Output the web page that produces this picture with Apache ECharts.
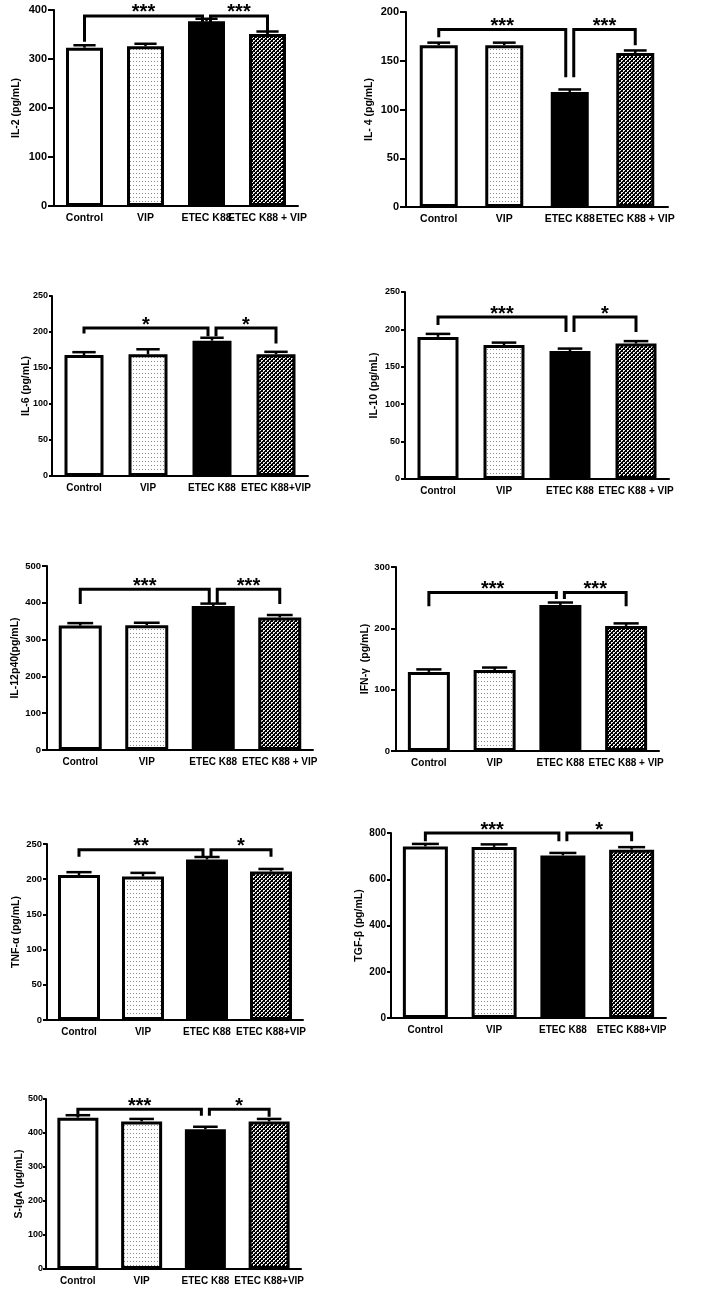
<!DOCTYPE html>
<html><head><meta charset="utf-8">
<script src="https://cdn.jsdelivr.net/npm/echarts/dist/echarts.min.js"></script>
<style>html,body{margin:0;padding:0;background:#fff}#c{width:706px;height:1290px}</style>
</head><body><div id="c"></div>
<script>
// ---------- DATA ----------
const catsSpaced = ['Control', 'VIP', 'ETEC K88', 'ETEC K88 + VIP'];
const catsTight  = ['Control', 'VIP', 'ETEC K88', 'ETEC K88+VIP'];

const il2Vals = [323, 326, 377, 351];   const il2Err = [3, 3, 4, 3];
const il4Vals = [166, 166, 118, 158];   const il4Err = [2, 2, 2, 2];
const il6Vals = [168, 169, 188, 169];   const il6Err = [4, 7, 4, 2];
const il10Vals = [190, 179, 171, 181];  const il10Err = [4, 2, 2, 3];
const il12Vals = [338, 339, 391, 360];  const il12Err = [4, 3, 4, 2];
const ifnVals = [129, 132, 238, 204];   const ifnErr = [3, 3, 4, 3];
const tnfVals = [206, 204, 228, 211];   const tnfErr = [4, 5, 2, 3];
const tgfVals = [742, 740, 703, 728];   const tgfErr = [3, 7, 5, 4];
const igaVals = [445, 434, 411, 434];   const igaErr = [4, 3, 2, 2];

// brackets: [fromIndex, toIndex, topValue, leftLegEnd, rightLegEnd, stars]
const il2Br  = [[0, 2, 388, 335, 375, '***'], [2, 3, 388, 375, 352, '***']];
const il4Br  = [[0, 2, 182, 174, 133, '***'], [2, 3, 182, 133, 166, '***']];
const il6Br  = [[0, 2, 205.5, 198, 194, '*'], [2, 3, 205.5, 194, 184, '*']];
const il10Br = [[0, 2, 216.5, 206, 196.5, '***'], [2, 3, 216.5, 196.5, 196.5, '*']];
const il12Br = [[0, 2, 437, 397, 397, '***'], [2, 3, 437, 397, 397, '***']];
const ifnBr  = [[0, 2, 258.5, 236, 248, '***'], [2, 3, 258.5, 248, 236, '***']];
const tnfBr  = [[0, 2, 242, 232, 232, '**'], [2, 3, 242, 232, 232, '*']];
const tgfBr  = [[0, 2, 800, 764, 764, '***'], [2, 3, 800, 764, 764, '*']];
const igaBr  = [[0, 2, 470, 448, 451, '***'], [2, 3, 470, 451, 448, '*']];

const yNames = ['IL-2 (pg/mL)', 'IL- 4 (pg/mL)', 'IL-6 (pg/mL)', 'IL-10 (pg/mL)', 'IL-12p40(pg/mL)',
                'IFN-\u03b3  (pg/mL)', 'TNF-\u03b1 (pg/mL)', 'TGF-\u03b2 (pg/mL)', 'S-IgA (\u03bcg/mL)'];
const yMax = [400, 200, 250, 250, 500, 300, 250, 800, 500];
const yStep = [100, 50, 50, 50, 100, 100, 50, 200, 100];

const panels = [
  {cats: catsSpaced, vals: il2Vals, err: il2Err, br: il2Br},
  {cats: catsSpaced, vals: il4Vals, err: il4Err, br: il4Br},
  {cats: catsTight, vals: il6Vals, err: il6Err, br: il6Br},
  {cats: catsSpaced, vals: il10Vals, err: il10Err, br: il10Br},
  {cats: catsSpaced, vals: il12Vals, err: il12Err, br: il12Br},
  {cats: catsSpaced, vals: ifnVals, err: ifnErr, br: ifnBr},
  {cats: catsTight, vals: tnfVals, err: tnfErr, br: tnfBr},
  {cats: catsTight, vals: tgfVals, err: tgfErr, br: tgfBr},
  {cats: catsTight, vals: igaVals, err: igaErr, br: igaBr}
];

// ---------- LAYOUT / STYLE ----------
const layout = [
  {left: 54, top: 10, width: 244, height: 196, barW: 37, fy: 11, fx: 10.5, gap: 32, sf: 20, lm: 7, tl: 6},
  {left: 406, top: 12, width: 262, height: 195, barW: 38, fy: 11, fx: 10.5, gap: 31, sf: 20, lm: 7, tl: 6},
  {left: 52, top: 296, width: 256, height: 180, barW: 39, fy: 9, fx: 10, gap: 20, sf: 20, lm: 4, tl: 3},
  {left: 405, top: 292, width: 264, height: 187, barW: 41, fy: 9, fx: 10, gap: 25, sf: 20, lm: 5, tl: 4},
  {left: 47, top: 566, width: 266, height: 184, barW: 43, fy: 9.5, fx: 10, gap: 26, sf: 20, lm: 6, tl: 5},
  {left: 396, top: 567, width: 263, height: 184, barW: 42, fy: 9.5, fx: 10, gap: 25, sf: 20, lm: 6, tl: 5},
  {left: 47, top: 844, width: 256, height: 176, barW: 42, fy: 9.5, fx: 10, gap: 25, sf: 20, lm: 5, tl: 4},
  {left: 391, top: 833, width: 275, height: 185, barW: 45, fy: 10, fx: 10, gap: 26, sf: 20, lm: 5, tl: 4},
  {left: 46, top: 1099, width: 255, height: 170, barW: 41, fy: 9, fx: 10, gap: 21, sf: 20, lm: 3, tl: 3}
];

function makeDots() {
  const c = document.createElement('canvas'); c.width = 3; c.height = 4;
  const g = c.getContext('2d');
  g.fillStyle = '#ffffff'; g.fillRect(0, 0, 3, 4);
  g.fillStyle = '#8a8a8a'; g.fillRect(1, 1, 1, 1);
  return c;
}
function makeWeave() {
  const c = document.createElement('canvas'); c.width = 4; c.height = 4;
  const g = c.getContext('2d');
  g.fillStyle = '#000'; g.fillRect(0, 0, 4, 4);
  g.fillStyle = '#f0f0f0';
  [[1, 0], [2, 0], [1, 1], [3, 2], [0, 2], [3, 3]].forEach(p => g.fillRect(p[0], p[1], 1, 1));
  return c;
}
const fills = ['#ffffff', {image: makeDots(), repeat: 'repeat'}, '#000000', {image: makeWeave(), repeat: 'repeat'}];
const FONT = '"Liberation Sans", Arial, sans-serif';

const grid = [], xAxis = [], yAxis = [], series = [];
panels.forEach((p, k) => {
  const L = layout[k];
  grid.push({left: L.left, top: L.top, width: L.width, height: L.height, containLabel: false});
  xAxis.push({
    type: 'category', gridIndex: k, data: p.cats,
    axisLine: {lineStyle: {color: '#000', width: 2}},
    axisTick: {alignWithLabel: true, length: 4, lineStyle: {color: '#000', width: 2}},
    axisLabel: {interval: 0, color: '#000', fontWeight: 'bold', fontFamily: FONT, fontSize: L.fx, margin: 7}
  });
  yAxis.push({
    type: 'value', gridIndex: k, min: 0, max: yMax[k], interval: yStep[k],
    name: yNames[k], nameLocation: 'middle', nameGap: L.gap, nameRotate: 90, nameMoveOverlap: false,
    nameTextStyle: {color: '#000', fontWeight: 'bold', fontFamily: FONT, fontSize: 10.5},
    axisLine: {show: true, lineStyle: {color: '#000', width: 2}},
    axisTick: {show: true, length: L.tl, lineStyle: {color: '#000', width: 2}},
    splitLine: {show: false},
    axisLabel: {color: '#000', fontWeight: 'bold', fontFamily: FONT, fontSize: L.fy, margin: L.lm}
  });
  series.push({
    type: 'bar', xAxisIndex: k, yAxisIndex: k, barWidth: L.barW,
    data: p.vals.map((v, i) => ({value: v, itemStyle: {color: fills[i]}})),
    itemStyle: {borderColor: '#000', borderWidth: 3},
    z: 2
  });
  const capW = L.barW * 0.6;
  series.push({
    type: 'custom', xAxisIndex: k, yAxisIndex: k, z: 3, clip: false,
    data: p.vals.map((v, i) => [i, v, p.err[i]]),
    encode: {x: 0, y: 1},
    renderItem: function (params, api) {
      const x = api.value(0), v = api.value(1), e = api.value(2);
      const a = api.coord([x, v]), b = api.coord([x, v + e]);
      const ty = Math.min(b[1], a[1] - 2.5);
      return {type: 'group', children: [
        {type: 'line', shape: {x1: a[0], y1: a[1], x2: a[0], y2: ty}, style: {stroke: '#000', lineWidth: 2.5}},
        {type: 'line', shape: {x1: a[0] - capW / 2, y1: ty, x2: a[0] + capW / 2, y2: ty}, style: {stroke: '#000', lineWidth: 2.5}}
      ]};
    }
  });
  const brs = p.br;
  series.push({
    type: 'custom', xAxisIndex: k, yAxisIndex: k, z: 4, clip: false,
    data: brs.map(b => [b[0], b[1], b[2], b[3], b[4]]),
    encode: {x: 0, y: 2},
    renderItem: function (params, api) {
      const i0 = api.value(0), i1 = api.value(1), yt = api.value(2), yl = api.value(3), yr = api.value(4);
      const a = api.coord([i0, yt]), b = api.coord([i1, yt]);
      const l = api.coord([i0, yl]), r = api.coord([i1, yr]);
      const g = 4;
      const xl = a[0] + (params.dataIndex === 1 ? g : 0);
      const xr = b[0] - (params.dataIndex === 0 ? g : 0);
      return {type: 'group', children: [
        {type: 'polyline', shape: {points: [[xl, l[1]], [xl, a[1]], [xr, a[1]], [xr, r[1]]]},
         style: {stroke: '#000', lineWidth: 3, fill: null, lineJoin: 'miter'}},
        {type: 'text', x: (xl + xr) / 2, y: a[1] - 3,
         style: {text: brs[params.dataIndex][5], fill: '#000', align: 'center', verticalAlign: 'middle',
                 font: 'bold ' + L.sf + 'px ' + FONT}}
      ]};
    }
  });
});

const chart = echarts.init(document.getElementById('c'), null, {renderer: 'canvas'});
chart.setOption({animation: false, backgroundColor: '#fff', grid, xAxis, yAxis, series});
</script></body></html>
